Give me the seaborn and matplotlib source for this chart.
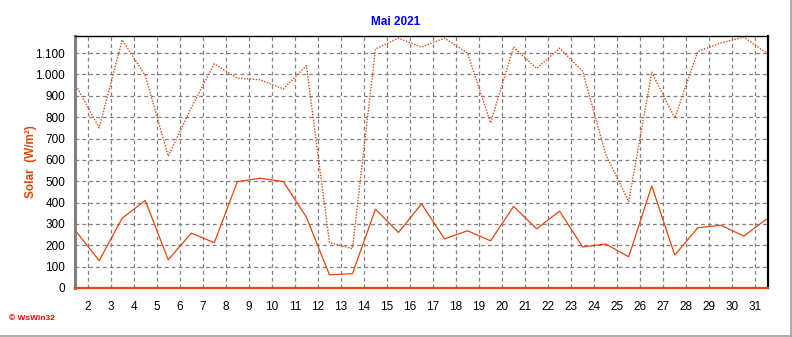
import matplotlib
matplotlib.use("Agg")
import matplotlib.pyplot as plt
import seaborn as sns
import pandas as pd
from matplotlib.ticker import FixedLocator, MultipleLocator, FuncFormatter

# ---- data ----
days = list(range(1, 32))
solar_max = [947, 750, 1162, 995, 617, 845, 1050, 983, 975, 932, 1041,
             213, 184, 1119, 1170, 1128, 1170, 1100, 773, 1128, 1028,
             1123, 1015, 625, 405, 1010, 796, 1108, 1147, 1175, 1100]
solar_avg = [265, 128, 327, 410, 132, 257, 212, 498, 514, 498, 332,
             62, 67, 369, 260, 394, 230, 268, 221, 382, 277,
             360, 192, 206, 146, 478, 154, 282, 294, 243, 324]
x_ticks = list(range(2, 32))
y_ticks = list(range(0, 1101, 100))
title = "Mai 2021"
ylabel = "Solar  (W/m²)"

df = pd.DataFrame({
    "pos": [d + 0.5 for d in days],
    "max": solar_max,
    "avg": solar_avg,
})

sns.set_style("white")
plt.rcParams["font.family"] = ["Liberation Sans", "DejaVu Sans"]

line_col = "#E2470C"
fig = plt.figure(figsize=(7.92, 3.37), dpi=100)
ax = fig.add_axes([75 / 792, 1 - 288 / 337, (768 - 75) / 792, (288 - 36) / 337])

sns.lineplot(data=df, x="pos", y="max", ax=ax, color=line_col, lw=1.0,
             linestyle=(0, (1, 1.1)))
sns.lineplot(data=df, x="pos", y="avg", ax=ax, color=line_col, lw=0.9)

ax.set_xlim(1.45, 31.55)
ax.set_ylim(0, 1180)

ax.xaxis.set_major_locator(FixedLocator(x_ticks))
ax.xaxis.set_minor_locator(MultipleLocator(0.25))
ax.yaxis.set_major_locator(FixedLocator(y_ticks))
ax.yaxis.set_minor_locator(MultipleLocator(50))
ax.yaxis.set_major_formatter(FuncFormatter(lambda v, p: f"{int(v):,}".replace(",", ".")))
ax.set_xticklabels([str(t) for t in x_ticks])

ax.grid(True, which="major", color="#808080", linestyle=(0, (3, 2.5)), lw=0.9)
ax.tick_params(axis="both", which="major", length=4, width=0.8, color="#808080",
               labelsize=8.5, labelcolor="black", pad=2, direction="out")
ax.tick_params(axis="both", which="minor", length=2, width=0.8, color="#808080",
               direction="out")
ax.tick_params(axis="y", pad=3)
ax.tick_params(axis="x", pad=5)

ax.spines["left"].set_color("#808080")
ax.spines["left"].set_linewidth(2.2)
ax.spines["bottom"].set_color(line_col)
ax.spines["bottom"].set_linewidth(1.6)
ax.spines["top"].set_color("black")
ax.spines["top"].set_linewidth(1.0)
ax.spines["right"].set_color("black")
ax.spines["right"].set_linewidth(1.6)
for s in ax.spines.values():
    s.set_visible(True)

ax.set_xlabel("")
ax.set_ylabel(ylabel, color=line_col, fontsize=8.5, fontweight="bold")
ax.yaxis.set_label_coords((37 - 75) / 693, (288 - 162) / 252)

fig.text(0.5, 1 - 22 / 337, title, color="#0000FF", fontsize=8.5,
         fontweight="bold", ha="center", va="center")

fig.text(9 / 792, 1 - 319 / 337, "© WsWin32", color="#FF0000", fontsize=6,
         fontweight="bold", va="center", ha="left")

# outer frame lines (right and bottom)
fig.add_artist(plt.Line2D([790.5 / 792, 790.5 / 792], [0, 1], color="#A0A0A0", lw=1.2))
fig.add_artist(plt.Line2D([0, 1], [0.8 / 337, 0.8 / 337], color="#A0A0A0", lw=1.2))

fig.savefig("out.png", dpi=100)
